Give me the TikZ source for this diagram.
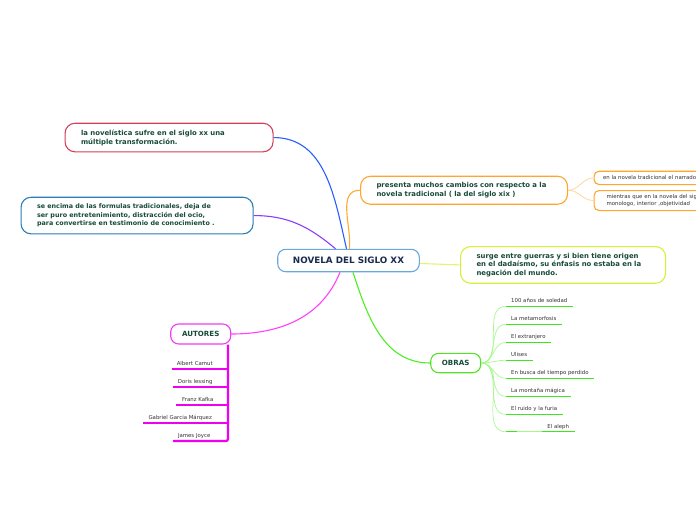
\documentclass[tikz,border=0pt]{standalone}
\usepackage{fontspec}
\setmainfont{DejaVu Sans}
\usepackage{tikz}
\usetikzlibrary{positioning}

\definecolor{txtgreen}{HTML}{174A3A}
\definecolor{txtnavy}{HTML}{1B2A4E}
\definecolor{txtgray}{HTML}{333333}
\definecolor{bordercenter}{HTML}{6AA8DC}
\definecolor{borderone}{HTML}{D2405A}
\definecolor{bordertwo}{HTML}{2A7DB5}
\definecolor{borderthree}{HTML}{FFA42E}
\definecolor{borderfour}{HTML}{D6F03A}
\definecolor{borderobras}{HTML}{55E02A}
\definecolor{borderaut}{HTML}{F03CF0}
\definecolor{lineblue}{HTML}{2A5CFF}
\definecolor{linepurple}{HTML}{8A3CFF}
\definecolor{lineorange}{HTML}{FFAA30}
\definecolor{lineyellow}{HTML}{E2F46A}
\definecolor{linegreen}{HTML}{4CEE1E}
\definecolor{linemagenta}{HTML}{FF40FF}
\definecolor{lightorange}{HTML}{FFD79A}
\definecolor{lightgreen}{HTML}{A8F890}
\definecolor{leafgreen}{HTML}{3CE81C}
\definecolor{barmagenta}{HTML}{F000F0}

\begin{document}
\begin{tikzpicture}[x=1pt, y=-1pt,
  bubble/.style={rectangle, rounded corners=10pt, draw, line width=1.1pt, fill=white, anchor=north west, align=left, inner xsep=16pt, inner ysep=0pt, text=txtgreen, font=\bfseries\fontsize{6.9}{9}\selectfont},
  central/.style={rectangle, rounded corners=8pt, draw=bordercenter, line width=1.1pt, fill=white, minimum width=141.6pt, minimum height=22.4pt, text=txtnavy, font=\bfseries\fontsize{8.8}{10}\selectfont},
  branch/.style={rectangle, rounded corners=8pt, draw, line width=1.1pt, fill=white, text=txtgreen, font=\bfseries\fontsize{7.1}{8}\selectfont},
  subbox/.style={rectangle, rounded corners=5pt, draw=borderthree, line width=1.1pt, fill=white, anchor=north west, align=left, inner ysep=0pt, text=txtgray, font=\fontsize{5.4}{6.6}\selectfont},
  leaf/.style={anchor=south west, inner xsep=5.5pt, inner ysep=2.5pt, text height=4pt, text depth=1pt, text=txtgray, font=\fontsize{5.4}{6}\selectfont},
  autleaf/.style={anchor=south west, inner xsep=0pt, inner ysep=2.5pt, text height=4pt, text depth=1pt, text=txtgray, font=\fontsize{5.4}{6}\selectfont},
  mainlink/.style={line width=1.1pt},
  sublink/.style={lightorange, line width=0.8pt},
  worklink/.style={lightgreen, line width=0.7pt},
  workline/.style={leafgreen, line width=1.2pt},
  autline/.style={barmagenta, line width=1.2pt},
  autbar/.style={barmagenta, line width=2.3pt}
]
\useasboundingbox (0,0) rectangle (696,520);

\node[central] (novela) at (348.5,260.5) {NOVELA DEL SIGLO XX};
\node[bubble, draw=borderone, minimum width=208pt, minimum height=28.6pt, text width=176pt] (transf) at (64.5,122.7) {la novelística sufre en el siglo xx una\\múltiple transformación.};
\node[bubble, draw=bordertwo, minimum width=232pt, minimum height=36.6pt, text width=200pt, font=\bfseries\fontsize{6.4}{8.5}\selectfont] (formulas) at (20.5,196.7) {se encima de las formulas tradicionales, deja de\\ser puro entretenimiento, distracción del ocio,\\para convertirse en testimonio de conocimiento .};
\node[bubble, draw=borderthree, minimum width=207pt, minimum height=28pt, text width=175pt] (cambios) at (360,175.7) {presenta muchos cambios con respecto a la\\novela tradicional ( la del siglo xix )};
\node[bubble, draw=borderfour, minimum width=205pt, minimum height=36.7pt, text width=173pt, font=\bfseries\fontsize{6.9}{8.5}\selectfont] (guerras) at (460,246) {surge entre guerras y si bien tiene origen\\en el dadaísmo, su énfasis no estaba en la\\negación del mundo.};
\node[subbox, inner xsep=9pt, minimum height=13.3pt, text width=140pt] (narrador) at (593.5,170.7) {en la novela tradicional el narrador};
\node[subbox, inner xsep=12.5pt, minimum height=20pt, text width=140pt] (mientras) at (593.5,190) {mientras que en la novela del siglo xx\\monologo, interior ,objetividad};
\node[branch, draw=borderobras, minimum width=50pt, minimum height=19.4pt] (obras) at (455.7,363) {OBRAS};
\node[branch, draw=borderaut, minimum width=60pt, minimum height=20pt] (autores) at (200.7,334) {AUTORES};

\node[leaf] (w1) at (505.5,306.3) {100 años de soledad};
\node[leaf] (w2) at (505.5,324.3) {La metamorfosis};
\node[leaf] (w3) at (505.5,342.3) {El extranjero};
\node[leaf] (w4) at (505.5,360.3) {Ulises};
\node[leaf] (w5) at (505.5,378.3) {En busca del tiempo perdido};
\node[leaf] (w6) at (505.5,396.3) {La montaña mágica};
\node[leaf] (w7) at (505.5,414.3) {El ruido y la furia};
\node[leaf] (w8) at (541.7,431.7) {El aleph};
\coordinate (w8stub) at (505.5,431.7);

\node[autleaf, minimum width=45pt] (a1) at (172,369) {Albert Camut};
\node[autleaf, minimum width=44pt] (a2) at (173,387) {Doris lessing};
\node[autleaf, minimum width=43pt] (a3) at (176,405) {Franz Kafka};
\node[autleaf, minimum width=74pt] (a4) at (143,423) {Gabriel Garcia Márquez};
\node[autleaf, minimum width=42pt] (a5) at (173,441) {James Joyce};
\coordinate (bartop) at ([xshift=-3.3pt]autores.south east);

\draw[mainlink, lineblue] ([xshift=-2pt]novela.north) to[out=103, in=0] (transf.east);
\draw[mainlink, linepurple] ([xshift=-13pt]novela.north) to[out=140, in=0] (formulas.east);
\draw[mainlink, lineorange] ([xshift=1pt]novela.north) to[out=85, in=180] (cambios.west);
\draw[mainlink, lineyellow] ([yshift=-3pt]novela.east) -- (guerras.west);
\draw[mainlink, linegreen] ([xshift=4.5pt]novela.south) to[out=-72, in=180] (obras.west);
\draw[mainlink, linemagenta] ([xshift=-8.5pt]novela.south) to[out=-112, in=0] (autores.east);

\draw[sublink] (cambios.east) to[out=0, in=180] (narrador.west);
\draw[sublink] (cambios.east) to[out=0, in=180] (mientras.west);

\draw[worklink] (obras.east) to[out=0, in=180] (w1.south west);
\draw[worklink] (obras.east) to[out=0, in=180] (w2.south west);
\draw[worklink] (obras.east) to[out=0, in=180] (w3.south west);
\draw[worklink] (obras.east) to[out=0, in=180] (w4.south west);
\draw[worklink] (obras.east) to[out=0, in=180] (w5.south west);
\draw[worklink] (obras.east) to[out=0, in=180] (w6.south west);
\draw[worklink] (obras.east) to[out=0, in=180] (w7.south west);
\draw[worklink] (obras.east) to[out=0, in=180] (w8stub);
\draw[worklink] (w8stub) -- (w8.south west);
\draw[workline] (w1.south west) -- (w1.south east);
\draw[workline] (w2.south west) -- (w2.south east);
\draw[workline] (w3.south west) -- (w3.south east);
\draw[workline] (w4.south west) -- (w4.south east);
\draw[workline] (w5.south west) -- (w5.south east);
\draw[workline] (w6.south west) -- (w6.south east);
\draw[workline] (w7.south west) -- (w7.south east);
\draw[workline] (w8.south west) -- (w8.south east);
\draw[workline] (w8stub) -- ++(11,0);

\draw[autbar, rounded corners=2pt] (bartop) |- (a5.south west);
\draw[autline] (a1.south west) -- (a1.south west -| bartop);
\draw[autline] (a2.south west) -- (a2.south west -| bartop);
\draw[autline] (a3.south west) -- (a3.south west -| bartop);
\draw[autline] (a4.south west) -- (a4.south west -| bartop);
\end{tikzpicture}
\end{document}
